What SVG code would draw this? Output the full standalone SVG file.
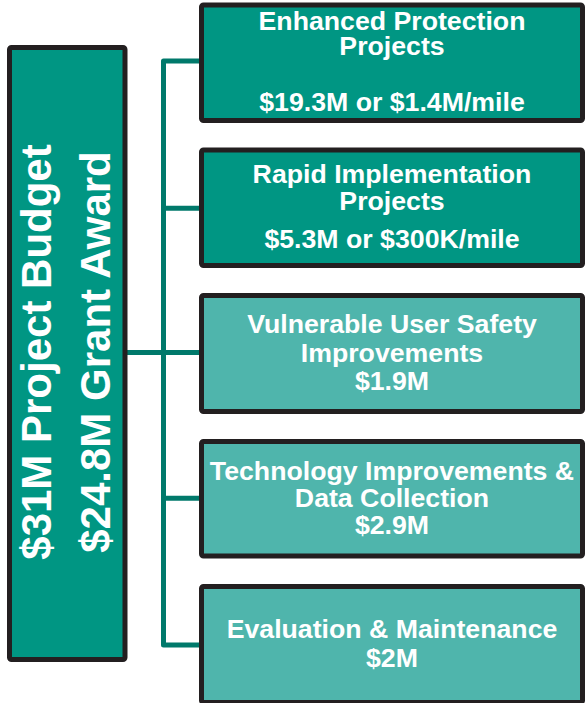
<svg xmlns="http://www.w3.org/2000/svg" width="586" height="703" viewBox="0 0 586 703">
  <style>
    .box { stroke: #231f20; stroke-width: 5; }
    .dark { fill: #009683; }
    .light { fill: #4fb5ac; }
    .lbl { font-family: "Liberation Sans", Arial, sans-serif; font-weight: bold; fill: #ffffff; text-anchor: middle; font-size: 26.7px; }
    .big { font-size: 42px; }
    .conn { fill: none; stroke: #00796b; stroke-width: 5; stroke-linejoin: round; stroke-linecap: butt; }
  </style>
  <rect width="586" height="703" fill="#ffffff"/>

  <!-- connectors -->
  <g id="connectors">
    <path class="conn" d="M200,61 H163.5 V645 H200"/>
    <path class="conn" d="M163.5,208.3 H200"/>
    <path class="conn" d="M163.5,498.3 H200"/>
    <path class="conn" d="M126,352.5 H200"/>
  </g>

  <!-- budget column -->
  <g id="budget">
    <rect class="box dark" x="9.5" y="47.5" width="115.5" height="612" rx="2"/>
    <text class="lbl big" transform="translate(51,352) rotate(-90)">$31M Project Budget</text>
    <text class="lbl big" transform="translate(110,352) rotate(-90)">$24.8M Grant Award</text>
  </g>

  <g id="enhanced">
    <rect class="box dark" x="201.5" y="5" width="381" height="115.5" rx="2"/>
    <text class="lbl" x="392" y="29.5">Enhanced Protection</text>
    <text class="lbl" x="392" y="55">Projects</text>
    <text class="lbl" x="392" y="111">$19.3M or $1.4M/mile</text>
  </g>

  <g id="rapid">
    <rect class="box dark" x="201.5" y="150" width="381" height="115.5" rx="2"/>
    <text class="lbl" x="392" y="183.3">Rapid Implementation</text>
    <text class="lbl" x="392" y="210">Projects</text>
    <text class="lbl" x="392" y="248.3">$5.3M or $300K/mile</text>
  </g>

  <g id="vulnerable">
    <rect class="box light" x="201.5" y="295.5" width="381" height="116" rx="2"/>
    <text class="lbl" x="392" y="333.3">Vulnerable User Safety</text>
    <text class="lbl" x="392" y="361.7">Improvements</text>
    <text class="lbl" x="392" y="390">$1.9M</text>
  </g>

  <g id="technology">
    <rect class="box light" x="201.5" y="441.5" width="381" height="114.5" rx="2"/>
    <text class="lbl" x="392" y="480">Technology Improvements &amp;</text>
    <text class="lbl" x="392" y="506.7">Data Collection</text>
    <text class="lbl" x="392" y="534">$2.9M</text>
  </g>

  <g id="evaluation">
    <rect class="box light" x="201.5" y="586.5" width="381" height="116" rx="2"/>
    <text class="lbl" x="392" y="638.3">Evaluation &amp; Maintenance</text>
    <text class="lbl" x="392" y="667.3">$2M</text>
  </g>
</svg>
